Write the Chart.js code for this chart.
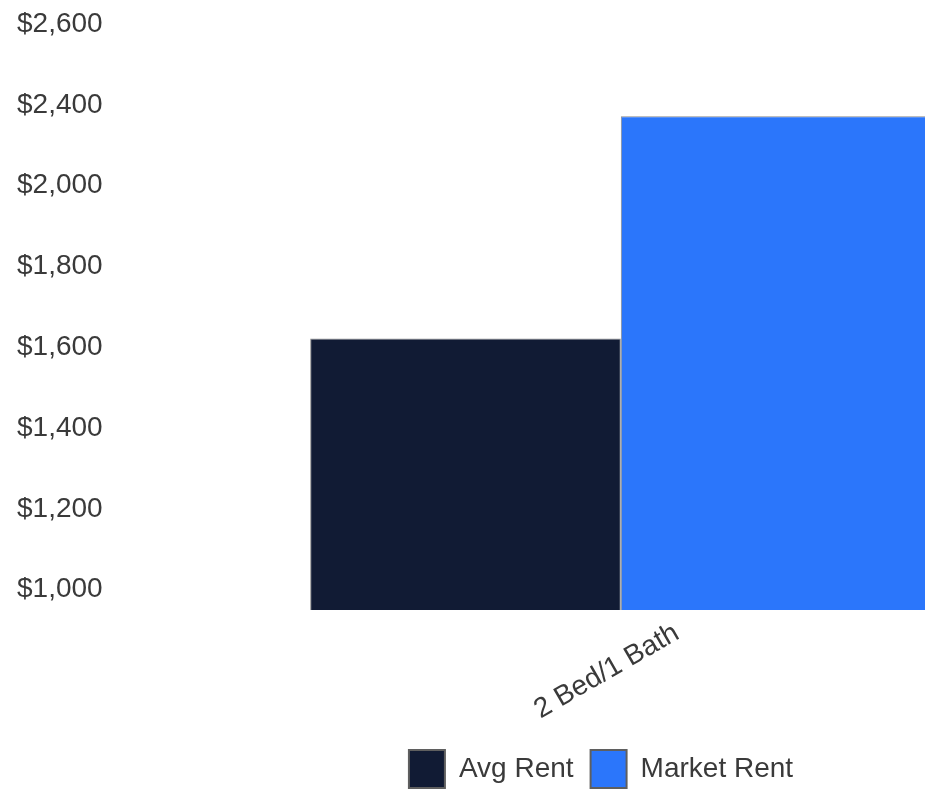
<!DOCTYPE html>
<html>
<head>
<meta charset="utf-8">
<script src="https://cdn.jsdelivr.net/npm/chart.js@4.4.0/dist/chart.umd.min.js"></script>
<style>
  html, body { margin: 0; padding: 0; background: #fff; overflow: hidden; }
  #wrap { width: 1188px; height: 798px; }
</style>
</head>
<body>
<div id="wrap"><canvas id="rentChart" width="1188" height="798"></canvas></div>
<script>
var categories = ['2 Bed/1 Bath'];
var avgRent = [1622];
var marketRent = [2172];
var tickValues = [1000, 1200, 1400, 1600, 1800, 2000, 2200, 2400];
var tickLabels = ['$1,000', '$1,200', '$1,400', '$1,600', '$1,800', '$2,000', '$2,400', '$2,600'];

var fontFam = '"Liberation Sans", Helvetica, Arial, sans-serif';
var textColor = '#3a3a3a';

var ctx = document.getElementById('rentChart').getContext('2d');
var chart = new Chart(ctx, {
  type: 'bar',
  data: {
    labels: categories,
    datasets: [{
      label: 'Avg Rent',
      data: avgRent,
      backgroundColor: '#111b34',
      borderColor: 'rgba(110,110,110,0.8)',
      borderWidth: 1
    }, {
      label: 'Market Rent',
      data: marketRent,
      backgroundColor: '#2b76fb',
      borderColor: 'rgba(110,110,110,0.8)',
      borderWidth: 1
    }]
  },
  options: {
    responsive: false,
    animation: false,
    layout: { padding: { left: 14, top: 24, right: 0, bottom: 0 } },
    datasets: {
      bar: { categoryPercentage: 0.603, barPercentage: 1 }
    },
    scales: {
      x: {
        grid: { display: false, drawTicks: false },
        border: { display: false },
        ticks: {
          minRotation: 30,
          maxRotation: 30,
          padding: 6.5,
          labelOffset: 56,
          color: textColor,
          font: { family: fontFam, size: 28 }
        }
      },
      y: {
        min: 950,
        max: 2400,
        grid: { display: false, drawTicks: false },
        border: { display: false },
        afterBuildTicks: function(scale) {
          scale.ticks = tickValues.map(function(v) { return { value: v }; });
        },
        ticks: {
          color: textColor,
          font: { family: fontFam, size: 28 },
          callback: function(value) {
            var i = tickValues.indexOf(value);
            return i >= 0 ? tickLabels[i] : '';
          }
        }
      },
      // empty right axis, only reserves room off-screen
      y2: {
        position: 'right',
        display: true,
        grid: { display: false, drawTicks: false },
        border: { display: false },
        ticks: { display: false },
        afterFit: function(scale) { scale.width = 52; }
      }
    },
    plugins: {
      tooltip: { enabled: false },
      legend: {
        position: 'bottom',
        labels: {
          boxWidth: 36,
          boxHeight: 38,
          padding: 17,
          color: textColor,
          font: { family: fontFam, size: 28 },
          generateLabels: function(c) {
            var items = Chart.defaults.plugins.legend.labels.generateLabels(c);
            items.forEach(function(it) {
              it.lineWidth = 2;
              it.strokeStyle = '#5f5f5f';
            });
            return items;
          }
        }
      }
    }
  }
});
</script>
</body>
</html>
